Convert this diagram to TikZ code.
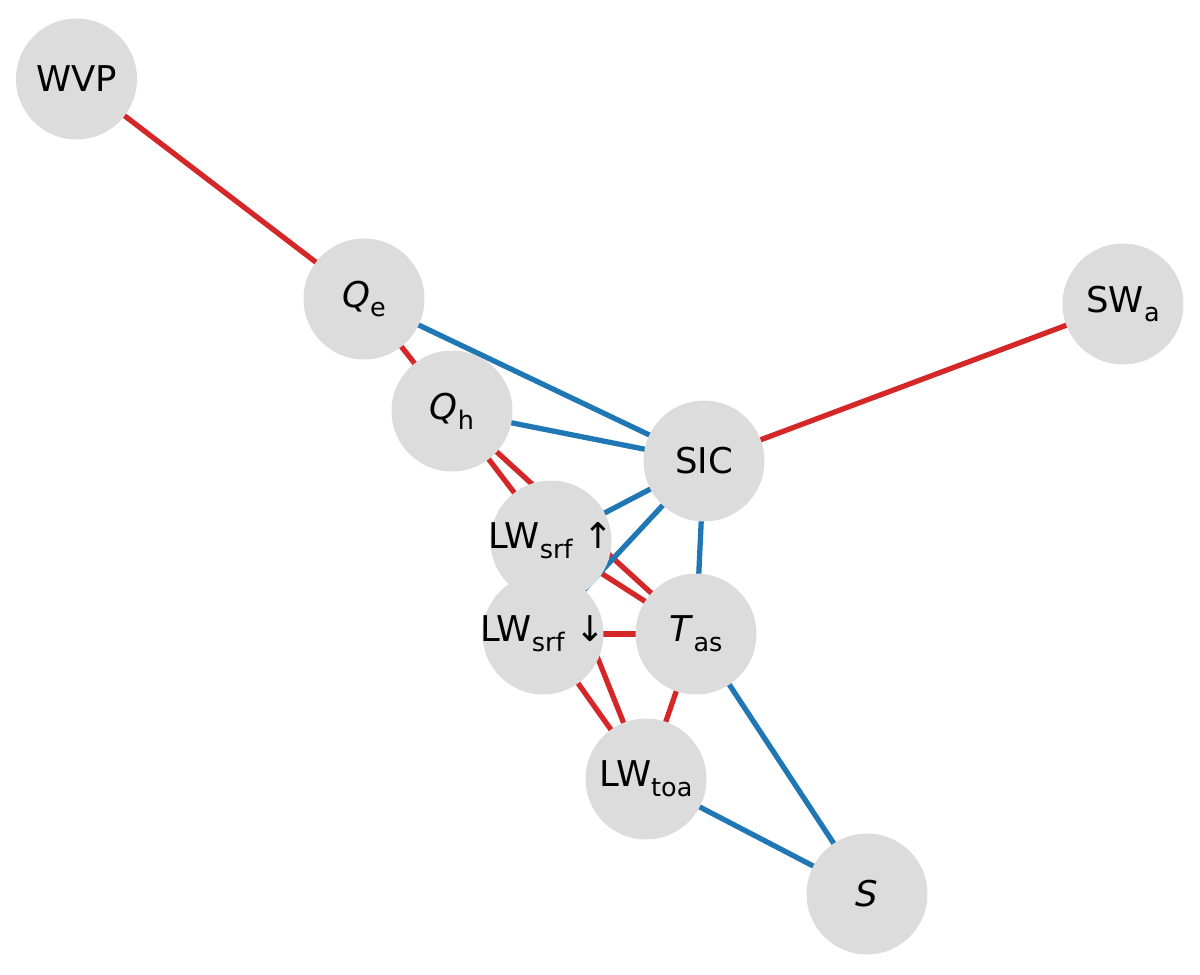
\documentclass[tikz,border=0pt]{standalone}
\usepackage{fontspec}
\setmainfont{DejaVu Sans}
\usepackage{tikz}
\usetikzlibrary{backgrounds}
\definecolor{posred}{HTML}{D62728}
\definecolor{negblue}{HTML}{1F77B4}
\definecolor{nodegray}{HTML}{DCDCDC}
\newcommand{\lowsub}[1]{\raisebox{-0.28em}{\fontsize{14.5}{16}\selectfont #1}}

\begin{document}
\begin{tikzpicture}[x=0.02cm, y=-0.02cm,
    var/.style={circle, fill=nodegray, minimum size=2.42cm, inner sep=0pt,
                font=\fontsize{20.2}{24}\selectfont},
    poslink/.style={posred, line width=3pt},
    neglink/.style={negblue, line width=3pt}]
            \useasboundingbox (0,0) rectangle (1200,974);

            % Draw the variables
            \node[var] (WVP) at (76.5,79) {WVP};
            \node[var] (Qe) at (364,299) {\textit{Q}\lowsub{e}};
            \node[var] (Qh) at (452,411) {\textit{Q}\lowsub{h}};
            \node[var] (SWa) at (1123,304) {SW\lowsub{a}};
            \node[var] (LWu) at (551,541) {\makebox[0pt]{LW\lowsub{srf} ↑}};
            \node[var] (LWd) at (543,634) {\makebox[0pt]{LW\lowsub{srf} ↓}};
            \node[var] (SIC) at (704,461) {SIC};
            \node[var] (Tas) at (696,634) {\textit{T}\lowsub{as}};
            \node[var] (LWtoa) at (646,779) {LW\lowsub{toa}};
            \node[var] (S) at (867,894) {\textit{S}};

            \begin{scope}[on background layer]
            % Positive links (red)
            \draw[poslink] (WVP.center) -- (Qe.center);
            \draw[poslink] (Qe.center) -- (Qh.center);
            \draw[poslink] (Qh.center) -- (LWu.center);
            \draw[poslink] (Qh.center) -- (Tas.center);
            \draw[poslink] (LWu.center) -- (Tas.center);
            \draw[poslink] (LWd.center) -- (Tas.center);
            \draw[poslink] (LWd.center) -- (LWtoa.center);
            \draw[poslink] (LWu.center) -- (LWtoa.center);
            \draw[poslink] (Tas.center) -- (LWtoa.center);
            \draw[poslink] (SIC.center) -- (SWa.center);

            % Negative links (blue)
            \draw[neglink] (Qe.center) -- (SIC.center);
            \draw[neglink] (Qh.center) -- (SIC.center);
            \draw[neglink] (SIC.center) -- (LWu.center);
            \draw[neglink] (SIC.center) -- (LWd.center);
            \draw[neglink] (SIC.center) -- (Tas.center);
            \draw[neglink] (Tas.center) -- (S.center);
            \draw[neglink] (LWtoa.center) -- (S.center);
            \end{scope}
\end{tikzpicture}
\end{document}
